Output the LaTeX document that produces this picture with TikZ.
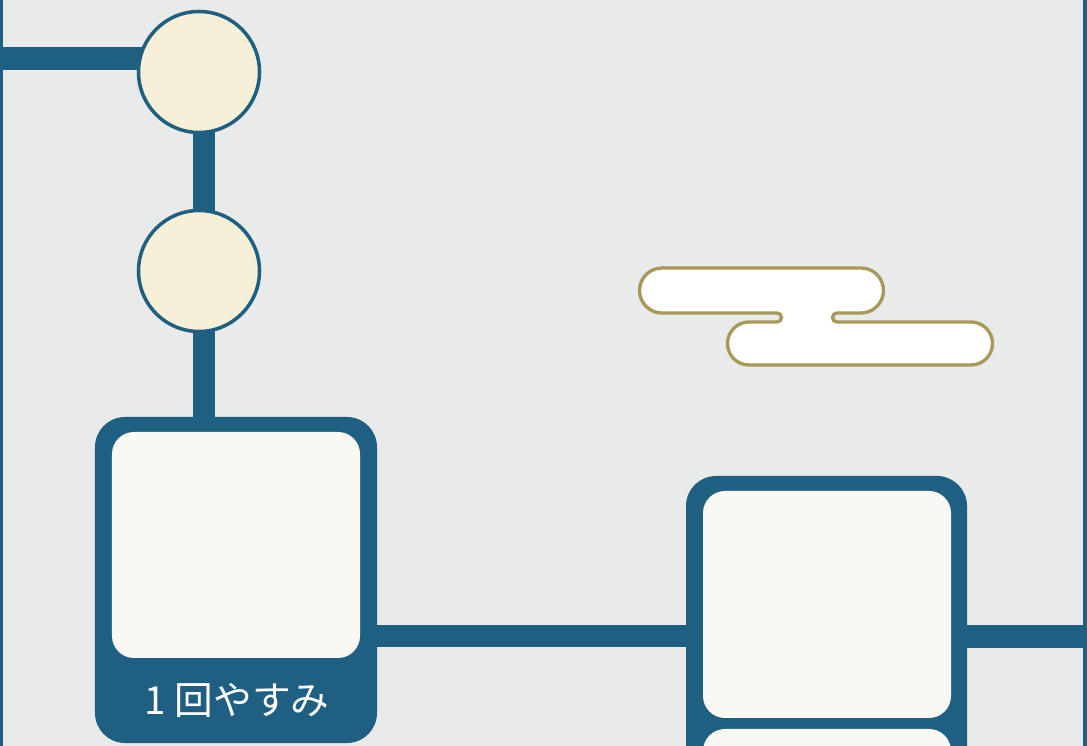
\documentclass[tikz,border=0pt]{standalone}
\usepackage{fontspec}
\newfontfamily\jpfont{Noto Sans CJK JP}
\usetikzlibrary{backgrounds}

\definecolor{boardgray}{HTML}{E9EAEA}
\definecolor{railblue}{HTML}{1F5F82}
\definecolor{stopcream}{HTML}{F6F1D6}
\definecolor{panelwhite}{HTML}{FAF8F2}
\definecolor{cloudgold}{HTML}{A8985A}

\tikzset{
  rail/.style={draw=railblue, line width=12.8pt},
  stopdot/.style={circle, draw=railblue, fill=stopcream, line width=2pt, minimum size=24.2mm, inner sep=0pt},
  square/.style={rectangle, fill=railblue, rounded corners=6mm, inner sep=0pt},
  panel/.style={rectangle, fill=panelwhite, rounded corners=4.4mm, inner sep=0pt},
}

\begin{document}
\begin{tikzpicture}[x=0.2mm, y=0.2mm]

\useasboundingbox (0,0) rectangle (1087,746);

\node[stopdot] (stopA) at (199,674) {};
\node[stopdot] (stopB) at (199,475) {};

\node[square, minimum width=56.4mm, minimum height=65.2mm] (rest) at (236,166) {};
\node[panel, minimum width=49.6mm, minimum height=45.2mm] (restpanel) at (236,201) {};
\node[text=white, font=\jpfont\fontsize{22}{22}\selectfont] (restlabel) at (237,46) {1 回やすみ};

\node[square, minimum width=56.2mm, minimum height=70mm] (sqB) at (826.5,95) {};
\node[panel, minimum width=49.6mm, minimum height=45.4mm] (sqBtop) at (827,141.5) {};
\node[panel, minimum width=49.6mm, minimum height=43.4mm] (sqBlow) at (827,-91.5) {};

\coordinate (edgeL) at (0,687.5);
\coordinate (edgeR) at (1087,109.5);
\coordinate (trunk) at (204,0);
\coordinate (midrail) at (0,110);

\begin{scope}[on background layer]
\fill[boardgray] (0,0) rectangle (1087,746);
\draw[rail] (edgeL) -- (edgeL -| stopA.center);
\draw[rail] (trunk |- stopA.center) -- (trunk |- stopB.center);
\draw[rail] (trunk |- stopB.center) -- (trunk |- rest.north);
\draw[rail] (midrail -| rest.east) -- (midrail -| sqB.west);
\draw[rail] (sqB.east |- edgeR) -- (edgeR);
\end{scope}

\draw[railblue, line width=1.7pt] (1.5,0) -- (1.5,746);
\draw[railblue, line width=2.3pt] (1085,0) -- (1085,746);

\draw[cloudgold, fill=white, line width=1.9pt]
  (662,478) -- (861,478) arc[start angle=90, end angle=-90, radius=4.5mm]
  -- (837,433) arc[start angle=90, end angle=270, radius=0.9mm]
  -- (971,424) arc[start angle=90, end angle=-90, radius=4.3mm]
  -- (749,381) arc[start angle=-90, end angle=-270, radius=4.3mm]
  -- (777,424) arc[start angle=-90, end angle=90, radius=0.9mm]
  -- (662,433) arc[start angle=-90, end angle=-270, radius=4.5mm] -- cycle;

\end{tikzpicture}
\end{document}
